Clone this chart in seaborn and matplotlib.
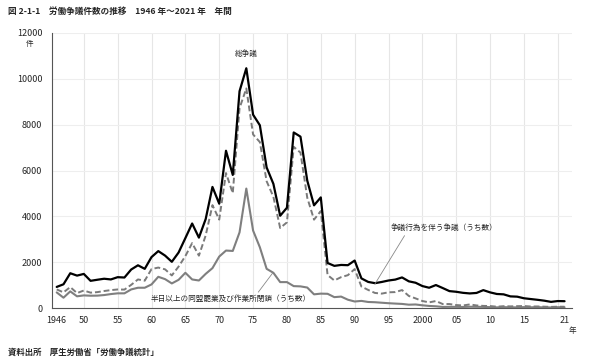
import numpy as np
import pandas as pd
import matplotlib
matplotlib.use('Agg')
import matplotlib.pyplot as plt
import seaborn as sns

# ── Data (件) ────────────────────────────────────────────────
years = list(range(1946, 2022))

total = [920, 1035, 1517, 1414, 1487, 1186, 1233, 1277, 1247, 1345,
         1330, 1680, 1864, 1709, 2222, 2483, 2287, 2016, 2422, 3051,
         3687, 3071, 3882, 5283, 4551, 6861, 5808, 9459, 10462, 8435,
         7974, 6134, 5416, 4026, 4376, 7660, 7477, 5562, 4480, 4826,
         1964, 1839, 1879, 1868, 2071, 1292, 1138, 1084, 1136, 1200,
         1240, 1334, 1164, 1102, 958, 884, 1002, 872, 737, 708,
         662, 636, 657, 780, 682, 612, 596, 507, 495, 425,
         391, 358, 320, 268, 303, 297]

with_acts = [810, 683, 913, 651, 763, 670, 693, 741, 780, 809,
             803, 1011, 1247, 1192, 1699, 1765, 1687, 1421, 1808, 2266,
             2832, 2284, 3167, 4488, 3858, 5888, 5010, 8720, 9581, 7574,
             7240, 5533, 4852, 3492, 3737, 7034, 6779, 4814, 3855, 4230,
             1439, 1202, 1347, 1433, 1698, 935, 788, 657, 628, 685,
             695, 782, 526, 419, 305, 246, 304, 174, 173, 129,
             111, 156, 112, 92, 85, 57, 79, 71, 80, 86,
             66, 68, 58, 49, 57, 55]

strikes = [680, 450, 725, 510, 550, 536, 540, 565, 608, 640,
           640, 811, 884, 884, 1029, 1362, 1260, 1072, 1230, 1536,
           1246, 1200, 1490, 1740, 2245, 2507, 2490, 3300, 5211, 3380,
           2650, 1710, 1536, 1130, 1130, 955, 944, 893, 596, 627,
           620, 474, 498, 362, 284, 310, 263, 252, 230, 209,
           193, 178, 145, 154, 118, 90, 74, 47, 51, 50,
           46, 54, 52, 48, 38, 28, 38, 31, 27, 39,
           31, 38, 26, 25, 35, 32]

tick_years  = [1946, 1950, 1955, 1960, 1965, 1970, 1975, 1980, 1985, 1990,
               1995, 2000, 2005, 2010, 2015, 2021]
tick_labels = ['1946', '50', '55', '60', '65', '70', '75', '80', '85', '90',
               '95', '2000', '05', '10', '15', '21']

df = pd.DataFrame({'year': years, 'total': total,
                   'with_acts': with_acts, 'strikes': strikes})

# ── Style ────────────────────────────────────────────────────
sns.set_style('white')
plt.rcParams['font.family'] = ['Noto Sans CJK JP', 'DejaVu Sans']

fig = plt.figure(figsize=(5.9, 3.61), dpi=100)
ax = fig.add_axes([0.0881, 0.1468, 0.8814, 0.7618])

sns.lineplot(data=df, x='year', y='strikes', ax=ax, color='#7f7f7f', linewidth=1.5)
sns.lineplot(data=df, x='year', y='with_acts', ax=ax, color='#7a7a7a', linewidth=1.4,
             linestyle=(0, (3, 1.5)))
sns.lineplot(data=df, x='year', y='total', ax=ax, color='black', linewidth=1.6)

ax.set_xlim(1945.3, 2022.1)
ax.set_ylim(0, 12000)
ax.set_yticks(range(0, 12001, 2000))
ax.set_xticks(tick_years)
ax.set_xticklabels(tick_labels, fontsize=6.5)
ax.tick_params(axis='y', labelsize=6.5, length=2, direction='inout', color='#555555', pad=6)
ax.tick_params(axis='x', length=0, pad=6)
ax.set_xlabel('')
ax.set_ylabel('')

# grid: every 5 years + every 2000 件
for yr in range(1950, 2021, 5):
    ax.axvline(yr, color='#e6e6e6', linewidth=0.8, zorder=0)
for v in range(2000, 12001, 2000):
    ax.axhline(v, color='#eeeeee', linewidth=0.8, zorder=0)

for s in ['top', 'right']:
    ax.spines[s].set_visible(False)
ax.spines['left'].set_color('#555555')
ax.spines['bottom'].set_color('#555555')
ax.spines['left'].set_linewidth(0.8)
ax.spines['bottom'].set_linewidth(0.8)

# ── Labels ───────────────────────────────────────────────────
ax.text(1974, 10900, '総争議', fontsize=5.5, ha='center', va='bottom')
ax.annotate('争議行為を伴う争議（うち数）', xy=(1993, 1050), xytext=(1995.3, 3300),
            fontsize=5.5, ha='left', va='bottom',
            arrowprops=dict(arrowstyle='-', color='#888888', linewidth=0.6,
                            shrinkA=0, shrinkB=0, relpos=(0.15, 0)))
ax.annotate('半日以上の同盟罷業及び作業所閉鎖（うち数）', xy=(1977.9, 1530), xytext=(1959.8, 200),
            fontsize=5.5, ha='left', va='bottom',
            arrowprops=dict(arrowstyle='-', color='#888888', linewidth=0.6,
                            shrinkA=0, shrinkB=0, relpos=(0.66, 1.0)))

fig.text(30 / 590, 1 - 44 / 361, '件', fontsize=5.5, ha='center', va='center')
fig.text(572 / 590, 1 - 331 / 361, '年', fontsize=5.5, ha='center', va='center')
fig.text(8 / 590, 1 - 11 / 361, '図 2-1-1　労働争議件数の推移　1946 年～2021 年　年間',
         fontsize=6.2, fontweight='bold', ha='left', va='center')
fig.text(8 / 590, 1 - 352 / 361, '資料出所　厚生労働省「労働争議統計」',
         fontsize=6, fontweight='bold', ha='left', va='center')

fig.savefig('out.png', dpi=100)
